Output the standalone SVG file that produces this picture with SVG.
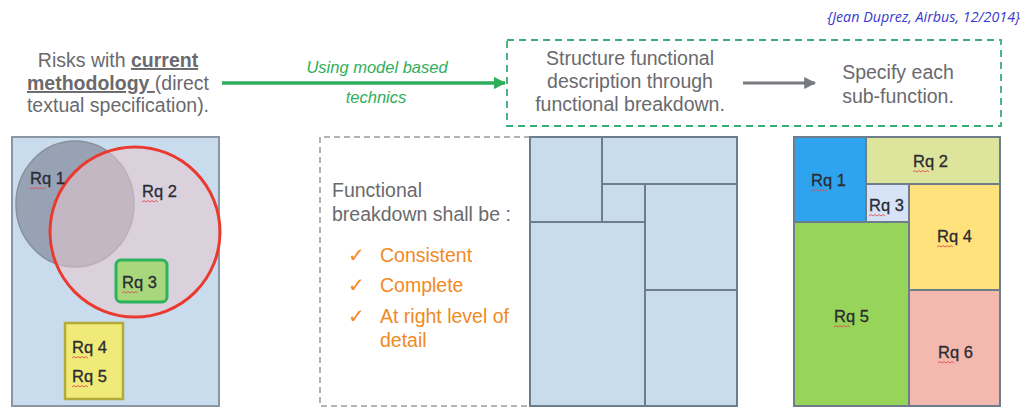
<svg xmlns="http://www.w3.org/2000/svg" width="1025" height="408" viewBox="0 0 1025 408">
<defs>
<style>
.t{font-family:"Liberation Sans",Arial,sans-serif;fill:#6a6a6e;font-size:19.5px}
.rq{font-family:"Liberation Sans",Arial,sans-serif;fill:#2b2b33;font-size:16.5px;stroke:#2b2b33;stroke-width:0.3}
.or{font-family:"Liberation Sans",Arial,sans-serif;fill:#f08a24;font-size:19.5px}
.gi{font-family:"Liberation Sans",Arial,sans-serif;fill:#2fae5c;font-size:16.5px;font-style:italic}
.sq{fill:none;stroke:#e05050;stroke-width:0.9}
.cell{stroke:#6e7d8c;stroke-width:2}
.bl{fill:#c9dcee}
</style>
<marker id="ag" viewBox="0 0 10 10" refX="9" refY="5" markerWidth="3.5" markerHeight="3.5" orient="auto"><path d="M0,0L10,5L0,10z" fill="#2fae5c"/></marker>
<marker id="agr" viewBox="0 0 10 10" refX="9" refY="5" markerWidth="4" markerHeight="4" orient="auto"><path d="M0,0L10,5L0,10z" fill="#777a80"/></marker>
</defs>
<rect width="1025" height="408" fill="#ffffff"/>

<text x="1020" y="22" text-anchor="end" font-family="'Open Sans','Liberation Sans',sans-serif" font-size="14.3" font-style="italic" fill="#3a3ad0">{Jean Duprez, Airbus, 12/2014}</text>

<g id="risks-title">
<text class="t" text-anchor="middle"><tspan x="118" y="67">Risks with <tspan font-weight="bold" text-decoration="underline">current</tspan></tspan><tspan x="118" y="90"><tspan font-weight="bold" text-decoration="underline">methodology </tspan>(direct</tspan><tspan x="118" y="112">textual specification).</tspan></text>
</g>

<g id="connectors">
<line x1="222" y1="83" x2="505" y2="83" stroke="#2fae5c" stroke-width="3.5" marker-end="url(#ag)"/>
<line x1="743" y1="83" x2="815" y2="83" stroke="#777a80" stroke-width="3" marker-end="url(#agr)"/>
</g>
<text class="gi" text-anchor="middle"><tspan x="377" y="73">Using model based</tspan><tspan x="376" y="103">technics</tspan></text>

<g id="structure-box">
<rect x="507" y="40" width="494" height="86" fill="none" stroke="#3aae78" stroke-width="1.8" stroke-dasharray="7,5"/>
<text class="t" text-anchor="middle"><tspan x="630" y="65">Structure functional</tspan><tspan x="630" y="88">description through</tspan><tspan x="630" y="111">functional breakdown.</tspan></text>
<text class="t" text-anchor="middle"><tspan x="898" y="79">Specify each</tspan><tspan x="898" y="103">sub-function.</tspan></text>
</g>

<g id="left-panel">
<rect x="12" y="137" width="207" height="269" fill="#c9dcee" stroke="#8a96a2" stroke-width="2"/>
<ellipse cx="75" cy="204" rx="59" ry="63" fill="#8b93a6" fill-opacity="0.8" stroke="#8a8f9a" stroke-width="1.5"/>
<circle cx="135" cy="232" r="85" fill="#e7c9cf" fill-opacity="0.55" stroke="#ea3a30" stroke-width="3"/>
<rect x="116" y="260" width="51" height="42" rx="5" fill="#a8d77c" stroke="#2bb35c" stroke-width="3"/>
<rect x="65" y="323" width="58" height="76" fill="#f0ea78" stroke="#b3aa3c" stroke-width="2.5"/>
<text class="rq" x="30" y="184">Rq 1</text>
<text class="rq" x="142" y="197">Rq 2</text>
<text class="rq" x="122" y="288">Rq 3</text>
<text class="rq" x="72" y="353">Rq 4</text>
<text class="rq" x="72" y="382">Rq 5</text>
<path class="sq" d="M30,189l2,-1.5l2,1.5l2,-1.5l2,1.5l2,-1.5l2,1.5l2,-1.5l2,1.5M142,202l2,-1.5l2,1.5l2,-1.5l2,1.5l2,-1.5l2,1.5l2,-1.5l2,1.5M122,293l2,-1.5l2,1.5l2,-1.5l2,1.5l2,-1.5l2,1.5l2,-1.5l2,1.5M72,358l2,-1.5l2,1.5l2,-1.5l2,1.5l2,-1.5l2,1.5l2,-1.5l2,1.5M72,387l2,-1.5l2,1.5l2,-1.5l2,1.5l2,-1.5l2,1.5l2,-1.5l2,1.5"/>
</g>

<g id="criteria-box">
<path d="M530,137H320V406H530" fill="none" stroke="#9a9a9a" stroke-width="1.5" stroke-dasharray="6,4"/>
<text class="t"><tspan x="332" y="197">Functional</tspan><tspan x="332" y="221">breakdown shall be :</tspan></text>
<text class="or" font-size="17"><tspan x="348" y="262">✓</tspan><tspan x="348" y="292">✓</tspan><tspan x="348" y="323">✓</tspan></text>
<text class="or"><tspan x="380" y="262">Consistent</tspan><tspan x="380" y="292">Complete</tspan><tspan x="380" y="323">At right level of</tspan><tspan x="380" y="347">detail</tspan></text>
</g>

<g id="breakdown-grid">
<rect class="cell bl" x="530" y="137" width="72" height="85"/>
<rect class="cell bl" x="602" y="137" width="135" height="47"/>
<rect class="cell bl" x="602" y="184" width="43" height="38"/>
<rect class="cell bl" x="645" y="184" width="92" height="106"/>
<rect class="cell bl" x="530" y="222" width="115" height="184"/>
<rect class="cell bl" x="645" y="290" width="92" height="116"/>
</g>

<g id="requirements-grid">
<rect class="cell" x="794" y="137" width="72" height="85" fill="#2ea4ee"/>
<rect class="cell" x="866" y="137" width="134" height="47" fill="#dde49c"/>
<rect class="cell" x="866" y="184" width="43" height="38" fill="#d6e3f6"/>
<rect class="cell" x="909" y="184" width="91" height="106" fill="#ffe27c"/>
<rect class="cell" x="794" y="222" width="115" height="184" fill="#97d45a"/>
<rect class="cell" x="909" y="290" width="91" height="116" fill="#f3b9af"/>
<text class="rq" x="811" y="186">Rq 1</text>
<text class="rq" x="913" y="167">Rq 2</text>
<text class="rq" x="869" y="211">Rq 3</text>
<text class="rq" x="937" y="242">Rq 4</text>
<text class="rq" x="834" y="322">Rq 5</text>
<text class="rq" x="938" y="358">Rq 6</text>
<path class="sq" d="M811,191l2,-1.5l2,1.5l2,-1.5l2,1.5l2,-1.5l2,1.5l2,-1.5l2,1.5M913,172l2,-1.5l2,1.5l2,-1.5l2,1.5l2,-1.5l2,1.5l2,-1.5l2,1.5M869,216l2,-1.5l2,1.5l2,-1.5l2,1.5l2,-1.5l2,1.5l2,-1.5l2,1.5M937,247l2,-1.5l2,1.5l2,-1.5l2,1.5l2,-1.5l2,1.5l2,-1.5l2,1.5M834,327l2,-1.5l2,1.5l2,-1.5l2,1.5l2,-1.5l2,1.5l2,-1.5l2,1.5M938,363l2,-1.5l2,1.5l2,-1.5l2,1.5l2,-1.5l2,1.5l2,-1.5l2,1.5"/>
</g>
</svg>
